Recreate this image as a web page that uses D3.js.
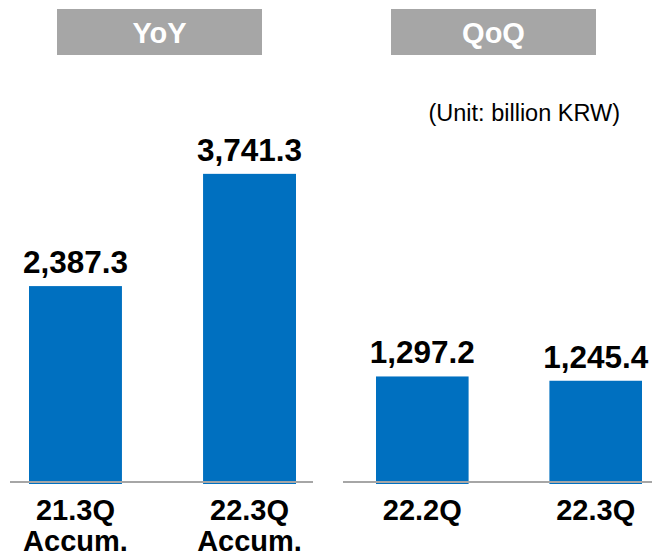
<!DOCTYPE html>
<html>
<head>
<meta charset="utf-8">
<script src="https://cdn.jsdelivr.net/npm/d3@7"></script>
<style>
body{margin:0;background:#fff;}
svg{display:block;font-family:"Liberation Sans",Arial,sans-serif;}
</style>
</head>
<body>
<svg id="chart" width="652" height="556"></svg>
<script>
// panel titles
const panels=["YoY","QoQ"]
// categories per panel (each is a list of label lines)
const yoyCats=[["21.3Q","Accum."],["22.3Q","Accum."]]
const qoqCats=[["22.2Q"],["22.3Q"]]
// values (billion KRW)
const yoyVals=[2387.3,3741.3]
const qoqVals=[1297.2,1245.4]
const unitLabel="(Unit: billion KRW)"

const svg=d3.select("#chart")
const blue="#0070C0"
const grey="#A6A6A6"
const fmt=d3.format(",.1f")

// same value scale for both panels
const y=d3.scaleLinear().domain([0,4000]).range([484,152.4])

function panel(cats,vals,range,line,title,box){
	const x=d3.scaleBand().domain(d3.range(cats.length)).range(range).paddingInner(0.466)
	const g=svg.append("g")

	// header box
	g.append("rect").attr("x",box[0]).attr("y",9).attr("width",box[1]-box[0]).attr("height",46).attr("fill",grey)
	g.append("text").attr("x",(box[0]+box[1])/2).attr("y",43)
		.attr("text-anchor","middle").attr("fill","#fff").attr("font-weight","bold").attr("font-size",29)
		.text(title)

	g.selectAll("rect.bar").data(vals).join("rect").attr("class","bar")
		.attr("x",(d,i)=>x(i)).attr("width",x.bandwidth())
		.attr("y",d=>y(d)).attr("height",d=>y(0)-y(d))
		.attr("fill",blue)

	g.append("line").attr("x1",line[0]).attr("x2",line[1]).attr("y1",482).attr("y2",482)
		.attr("stroke",grey).attr("stroke-width",2)

	g.selectAll("text.val").data(vals).join("text").attr("class","val")
		.attr("x",(d,i)=>x(i)+x.bandwidth()/2).attr("y",d=>y(d)-13)
		.attr("text-anchor","middle").attr("font-weight","bold").attr("font-size",31.5)
		.text(d=>fmt(d))

	cats.forEach((c,i)=>{
		c.forEach((l,j)=>{
			g.append("text").attr("x",x(i)+x.bandwidth()/2).attr("y",520+j*31)
				.attr("text-anchor","middle").attr("font-weight","bold").attr("font-size",29)
				.text(l)
		})
	})
}

panel(yoyCats,yoyVals,[29,296],[10,313],panels[0],[57,262])
panel(qoqCats,qoqVals,[376,642],[343,652],panels[1],[391,596])

svg.append("text").attr("x",620).attr("y",121).attr("text-anchor","end")
	.attr("font-size",23.5).attr("fill","#000").text(unitLabel)
</script>
</body>
</html>
